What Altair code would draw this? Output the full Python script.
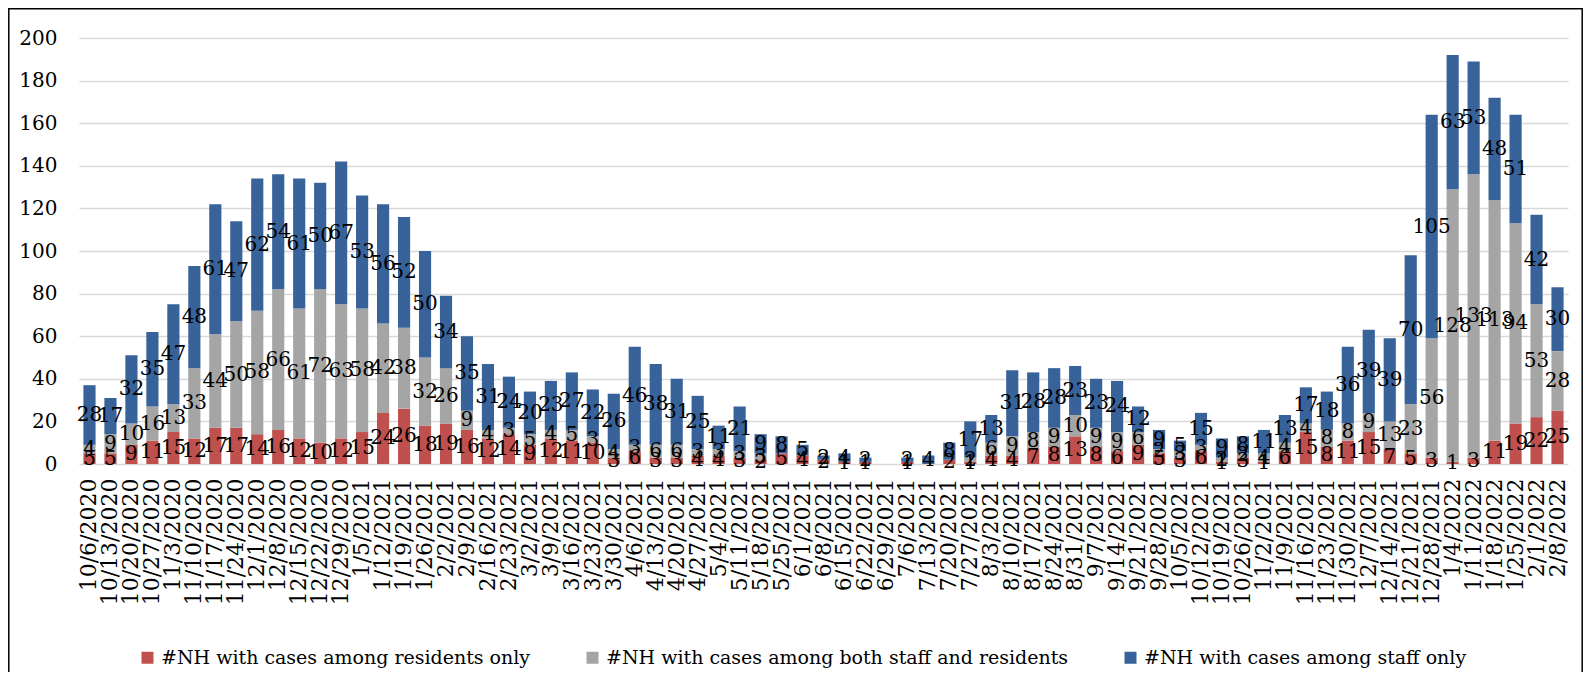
import altair as alt
import pandas as pd

dates = [
    "10/6/2020", "10/13/2020", "10/20/2020", "10/27/2020", "11/3/2020", "11/10/2020",
    "11/17/2020", "11/24/2020", "12/1/2020", "12/8/2020", "12/15/2020", "12/22/2020",
    "12/29/2020", "1/5/2021", "1/12/2021", "1/19/2021", "1/26/2021", "2/2/2021",
    "2/9/2021", "2/16/2021", "2/23/2021", "3/2/2021", "3/9/2021", "3/16/2021",
    "3/23/2021", "3/30/2021", "4/6/2021", "4/13/2021", "4/20/2021", "4/27/2021",
    "5/4/2021", "5/11/2021", "5/18/2021", "5/25/2021", "6/1/2021", "6/8/2021",
    "6/15/2021", "6/22/2021", "6/29/2021", "7/6/2021", "7/13/2021", "7/20/2021",
    "7/27/2021", "8/3/2021", "8/10/2021", "8/17/2021", "8/24/2021", "8/31/2021",
    "9/7/2021", "9/14/2021", "9/21/2021", "9/28/2021", "10/5/2021", "10/12/2021",
    "10/19/2021", "10/26/2021", "11/2/2021", "11/9/2021", "11/16/2021", "11/23/2021",
    "11/30/2021", "12/7/2021", "12/14/2021", "12/21/2021", "12/28/2021", "1/4/2022",
    "1/11/2022", "1/18/2022", "1/25/2022", "2/1/2022", "2/8/2022",
]

residents_only = [
    5, 5, 9, 11, 15, 12, 17, 17, 14, 16, 12, 10,
    12, 15, 24, 26, 18, 19, 16, 12, 14, 9, 12, 11,
    10, 3, 6, 3, 3, 4, 4, 3, 2, 5, 4, 2,
    1, 1, 0, 1, 0, 2, 1, 4, 4, 7, 8, 13,
    8, 6, 9, 5, 3, 6, 1, 3, 1, 6, 15, 8,
    11, 15, 7, 5, 3, 1, 3, 11, 19, 22, 25,
]

both = [
    4, 9, 10, 16, 13, 33, 44, 50, 58, 66, 61, 72,
    63, 58, 42, 38, 32, 26, 9, 4, 3, 5, 4, 5,
    3, 4, 3, 6, 6, 3, 3, 3, 3, 0, 0, 0,
    0, 0, 0, 0, 0, 0, 2, 6, 9, 8, 9, 10,
    9, 9, 6, 2, 3, 3, 2, 2, 4, 4, 4, 8,
    8, 9, 13, 23, 56, 128, 133, 113, 94, 53, 28,
]

staff_only = [
    28, 17, 32, 35, 47, 48, 61, 47, 62, 54, 61, 50,
    67, 53, 56, 52, 50, 34, 35, 31, 24, 20, 23, 27,
    22, 26, 46, 38, 31, 25, 11, 21, 9, 8, 5, 2,
    4, 2, 0, 2, 4, 8, 17, 13, 31, 28, 28, 23,
    23, 24, 12, 9, 5, 15, 9, 8, 11, 13, 17, 18,
    36, 39, 39, 70, 105, 63, 53, 48, 51, 42, 30,
]

series = [
    "#NH with cases among residents only",
    "#NH with cases among both staff and residents",
    "#NH with cases among staff only",
]
colors = ["#C0504D", "#A5A5A5", "#38629A"]

rows = []
for k, vals in enumerate([residents_only, both, staff_only]):
    for d, v in zip(dates, vals):
        rows.append({"date": d, "series": series[k], "k": k, "value": v})
df = pd.DataFrame(rows)

FONT = "DejaVu Serif"

base = alt.Chart(df).transform_stack(
    stack="value",
    groupby=["date"],
    as_=["y0", "y1"],
    sort=[alt.SortField("k", order="ascending")],
)

xenc = alt.X(
    "date:N",
    sort=dates,
    title=None,
    scale=alt.Scale(paddingInner=0.42, paddingOuter=0.21),
    axis=alt.Axis(
        labelAngle=270,
        labelFont=FONT,
        labelFontSize=22,
        labelColor="#000000",
        labelOverlap=False,
        labelPadding=14,
        ticks=False,
        domain=False,
        grid=False,
    ),
)

bars = base.mark_bar().encode(
    x=xenc,
    y=alt.Y(
        "y0:Q",
        title=None,
        scale=alt.Scale(domain=[0, 200], nice=False),
        axis=alt.Axis(
            values=list(range(0, 201, 20)),
            labelFont=FONT,
            labelFontSize=20,
            labelColor="#000000",
            labelPadding=22,
            ticks=False,
            domain=False,
            grid=True,
            gridColor="#D9D9D9",
            gridWidth=1.5,
        ),
    ),
    y2="y1:Q",
    color=alt.Color(
        "series:N",
        scale=alt.Scale(domain=series, range=colors),
        legend=alt.Legend(
            title=None,
            orient="none",
            direction="horizontal",
            legendX=59,
            legendY=610,
            symbolType="square",
            symbolSize=144,
            symbolStrokeWidth=0,
            labelFont=FONT,
            labelFontSize=19,
            labelColor="#000000",
            labelOffset=4,
            columnPadding=52,
            padding=0,
            labelLimit=0,
        ),
    ),
)

labels = base.transform_calculate(
    mid="(datum.y0 + datum.y1) / 2"
).transform_filter("datum.value > 0").mark_text(
    font=FONT, fontSize=20, color="#000000", align="center", baseline="middle"
).encode(
    x=alt.X("date:N", sort=dates),
    y=alt.Y("mid:Q"),
    text=alt.Text("value:Q"),
)

border = alt.Chart(pd.DataFrame({"a": [0]})).mark_rect(
    fill=None, stroke="#000000", strokeWidth=1.5
).encode(
    x=alt.value(-70.2),
    x2=alt.value(1503.2),
    y=alt.value(-29.2),
    y2=alt.value(700),
)

chart = alt.layer(border, bars, labels).properties(
    width=1489,
    height=426,
    padding={"left": 71, "top": 30, "right": 15, "bottom": 208},
    autosize=alt.AutoSizeParams(type="none"),
).configure_view(stroke=None)

chart.save("out.html", embed_options={"renderer": "svg", "actions": False})
